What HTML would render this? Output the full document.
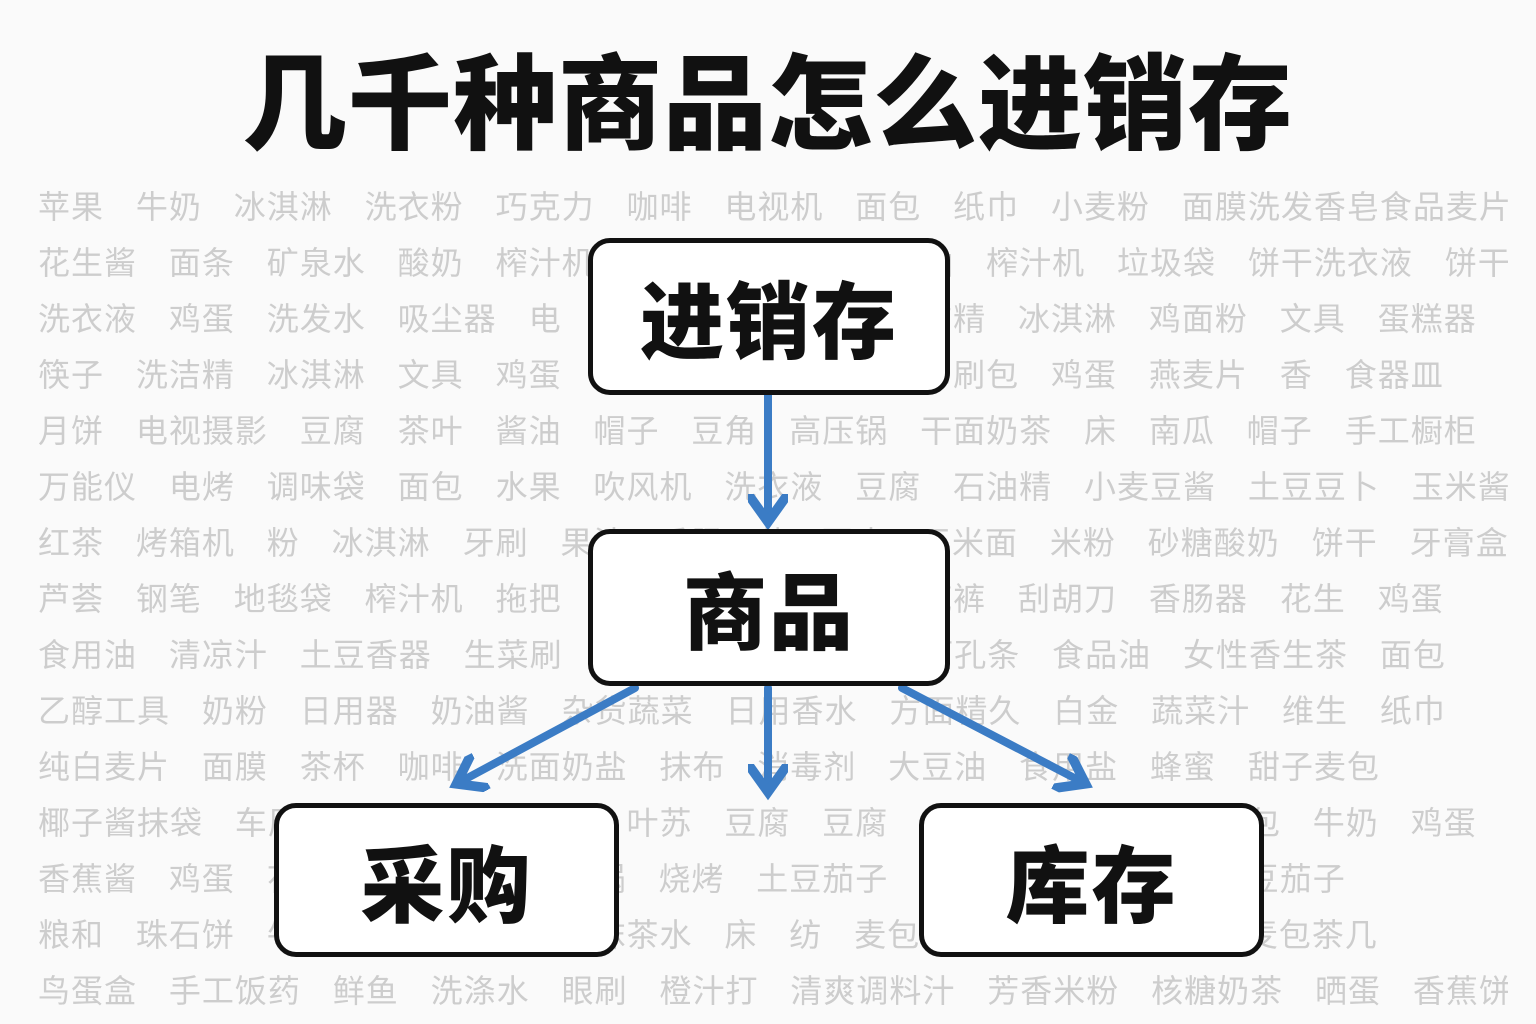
<!DOCTYPE html>
<html><head><meta charset="utf-8">
<style>
html,body{margin:0;padding:0;}
body{width:1536px;height:1024px;background:#fafafa;position:relative;overflow:hidden;font-family:"Liberation Sans","Noto Sans CJK SC",sans-serif;}
.title{position:absolute;left:0;width:1536px;top:41px;text-align:center;font-size:104px;font-weight:900;color:#111;letter-spacing:1px;line-height:130px;}
.bg{position:absolute;left:38px;width:1470px;font-size:32px;color:#cdcdcd;white-space:nowrap;overflow:hidden;line-height:40px;word-spacing:22px;letter-spacing:1px;}
.box{position:absolute;background:#fff;border:5px solid #111;border-radius:22px;box-sizing:border-box;display:flex;align-items:center;justify-content:center;font-weight:900;color:#111;font-size:84px;letter-spacing:2px;}
svg{position:absolute;left:0;top:0;}
</style></head><body>
<div class="title">几千种商品怎么进销存</div>
<div class="bg" style="top:187px">苹果 牛奶 冰淇淋 洗衣粉 巧克力 咖啡 电视机 面包 纸巾 小麦粉 面膜洗发香皂食品麦片</div>
<div class="bg" style="top:243px">花生酱 面条 矿泉水 酸奶 榨汁机 电饭煲 方便面 酱油 榨汁机 垃圾袋 饼干洗衣液 饼干</div>
<div class="bg" style="top:299px">洗衣液 鸡蛋 洗发水 吸尘器 电 冰箱 牙刷 毛巾 洗洁精 冰淇淋 鸡面粉 文具 蛋糕器</div>
<div class="bg" style="top:355px">筷子 洗洁精 冰淇淋 文具 鸡蛋 大米 牙膏 纸巾 纸巾刷包 鸡蛋 燕麦片 香 食器皿</div>
<div class="bg" style="top:411px">月饼 电视摄影 豆腐 茶叶 酱油 帽子 豆角 高压锅 干面奶茶 床 南瓜 帽子 手工橱柜</div>
<div class="bg" style="top:467px">万能仪 电烤 调味袋 面包 水果 吹风机 洗衣液 豆腐 石油精 小麦豆酱 土豆豆卜 玉米酱</div>
<div class="bg" style="top:523px">红茶 烤箱机 粉 冰淇淋 牙刷 果汁 香肠 药 豆皮 玉米面 米粉 砂糖酸奶 饼干 牙膏盒</div>
<div class="bg" style="top:579px">芦荟 钢笔 地毯袋 榨汁机 拖把 水杯 药 搅拌剂 打底裤 刮胡刀 香肠器 花生 鸡蛋</div>
<div class="bg" style="top:635px">食用油 清凉汁 土豆香器 生菜刷 牛奶 番茄 黄瓜 挂面孔条 食品油 女性香生茶 面包</div>
<div class="bg" style="top:691px">乙醇工具 奶粉 日用器 奶油酱 杂货蔬菜 日用香水 方面精久 白金 蔬菜汁 维生 纸巾</div>
<div class="bg" style="top:747px">纯白麦片 面膜 茶杯 咖啡 洗面奶盐 抹布 消毒剂 大豆油 食用盐 蜂蜜 甜子麦包</div>
<div class="bg" style="top:803px">椰子酱抹袋 车厘子 杯 精包 牛油 叶苏 豆腐 豆腐 土豆花生 小苏打 面包 牛奶 鸡蛋</div>
<div class="bg" style="top:859px">香蕉酱 鸡蛋 花生油 榨汁机 油 锅 烧烤 土豆茄子 面粉 饼干 咖啡 土豆茄子</div>
<div class="bg" style="top:915px">粮和 珠石饼 牛奶 香肠 生菜楼 抹茶水 床 纺 麦包 茶叶 纸巾 面条 麦包茶几</div>
<div class="bg" style="top:971px">鸟蛋盒 手工饭药 鲜鱼 洗涤水 眼刷 橙汁打 清爽调料汁 芳香米粉 核糖奶茶 晒蛋 香蕉饼</div>

<svg width="1536" height="1024">
<defs><marker id="a" markerWidth="5" markerHeight="5" refX="3" refY="2.5" orient="auto" markerUnits="strokeWidth"><path d="M0,0 L3.5,2.5 L0,5" fill="none" stroke="#3b7cc5" stroke-width="1.2"/></marker></defs>
<g stroke="#3b7cc5" stroke-width="8" fill="none" stroke-linecap="round">
<line x1="768" y1="395" x2="768" y2="518" marker-end="url(#a)"/>
<line x1="635" y1="688" x2="460" y2="782" marker-end="url(#a)"/>
<line x1="768" y1="688" x2="768" y2="788" marker-end="url(#a)"/>
<line x1="902" y1="688" x2="1082" y2="782" marker-end="url(#a)"/>
</g></svg>

<div class="box" style="left:588px;top:238px;width:362px;height:157px;">进销存</div>
<div class="box" style="left:588px;top:529px;width:362px;height:157px;">商品</div>
<div class="box" style="left:274px;top:803px;width:345px;height:154px;">采购</div>
<div class="box" style="left:919px;top:803px;width:345px;height:154px;">库存</div>
</body></html>
